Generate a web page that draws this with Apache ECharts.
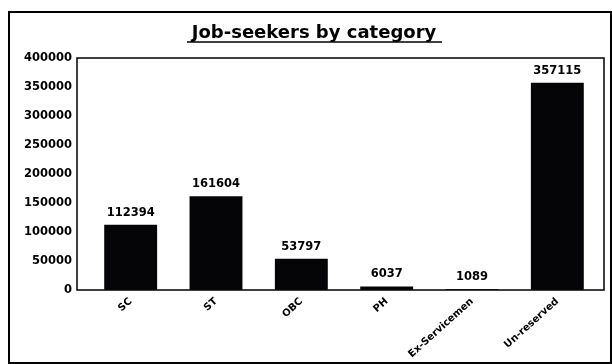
<!DOCTYPE html>
<html>
<head>
<meta charset="utf-8">
<script src="https://cdn.jsdelivr.net/npm/echarts@6/dist/echarts.min.js"></script>
<style>
    html, body { margin: 0; padding: 0; background: #fff; }
    #jobChart { width: 612px; height: 364px; }
</style>
</head>
<body>
<div id="jobChart"></div>
<script>
var categories = ['SC', 'ST', 'OBC', 'PH', 'Ex-Servicemen', 'Un-reserved'];
var seekers = [112394, 161604, 53797, 6037, 1089, 357115];
var yTicks = [0, 50000, 100000, 150000, 200000, 250000, 300000, 350000, 400000];

(function () {
    var myChart = echarts.init(document.getElementById('jobChart'));
    var font = 'DejaVu Sans';

    var option = {
        backgroundColor: '#fff',
        animation: false,
        grid: {
            left: 88,
            right: 12,
            top: 58,
            bottom: 74
        },
        graphic: [
            {
                // outer frame
                type: 'rect',
                shape: { x: 9, y: 12, width: 602, height: 351 },
                style: { fill: 'none', stroke: '#000', lineWidth: 2 }
            },
            {
                // plot box, a bit wider than the bars' grid
                type: 'rect',
                shape: { x: 77, y: 58, width: 527, height: 232 },
                style: { fill: 'none', stroke: '#000', lineWidth: 1.5 }
            },
            {
                type: 'text',
                x: 314,
                y: 33,
                style: {
                    text: 'Job-seekers by category',
                    font: 'bold 18px "' + font + '"',
                    fill: '#000',
                    align: 'center',
                    verticalAlign: 'middle'
                }
            },
            {
                // underline of the title
                type: 'line',
                shape: { x1: 187, y1: 42, x2: 442, y2: 42 },
                style: { stroke: '#000', lineWidth: 1.5 }
            }
        ],
        xAxis: {
            type: 'category',
            data: categories,
            axisLine: { show: false },
            axisTick: { show: false },
            axisLabel: {
                rotate: 42,
                interval: 0,
                margin: 10,
                color: '#000',
                fontFamily: font,
                fontWeight: 'bold',
                fontSize: 10
            }
        },
        yAxis: {
            type: 'value',
            min: yTicks[0],
            max: yTicks[yTicks.length - 1],
            interval: yTicks[1] - yTicks[0],
            axisLine: { show: false },
            axisTick: { show: false },
            splitLine: { show: false },
            axisLabel: {
                margin: 16,
                color: '#000',
                fontFamily: font,
                fontWeight: 'bold',
                fontSize: 11.5,
                formatter: function (v) { return String(v); }
            }
        },
        series: [
            {
                name: 'Job-seekers',
                type: 'bar',
                data: seekers,
                barWidth: '62%',
                itemStyle: { color: '#050508' },
                label: {
                    show: true,
                    position: 'top',
                    distance: 6,
                    color: '#000',
                    fontFamily: font,
                    fontWeight: 'bold',
                    fontSize: 11.5
                }
            }
        ]
    };
    myChart.setOption(option);
})();
</script>
</body>
</html>
